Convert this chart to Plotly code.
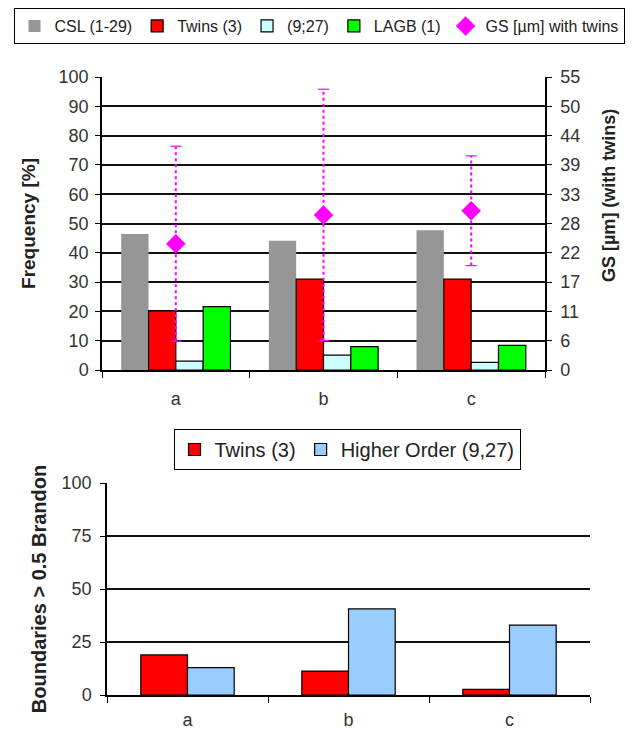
import plotly.graph_objects as go

# ---------------- data ----------------
categories = ["a", "b", "c"]
csl = [46.4, 44.1, 47.7]
twins = [20.2, 31.0, 31.0]
higher = [3.0, 5.1, 2.6]
lagb = [21.6, 8.0, 8.4]
gs = [23.7, 29.1, 29.9]
gs_err = [18.3, 23.6, 10.3]
freq_ticks = [0, 10, 20, 30, 40, 50, 60, 70, 80, 90, 100]
gs_ticks = [0, 5.5, 11, 16.5, 22, 27.5, 33, 38.5, 44, 49.5, 55]
gs_ticktext = ["0", "6", "11", "17", "22", "28", "33", "39", "44", "50", "55"]

brandon_twins = [18.9, 11.3, 2.7]
brandon_higher = [12.9, 40.6, 33.0]
brandon_ticks = [0, 25, 50, 75, 100]

FONT = "Liberation Sans, Arial, sans-serif"
OFF = 8  # page body margin
W, H = 636 - OFF, 732 - OFF

def px(x):
    return (x - OFF) / W

def py(y):
    return 1 - (y - OFF) / H

fig = go.Figure()

# top chart bars
fig.add_trace(go.Bar(x=categories, y=csl, name="CSL (1-29)",
                     marker=dict(color="#969696", line=dict(width=0)),
                     xaxis="x", yaxis="y", legend="legend"))
fig.add_trace(go.Bar(x=categories, y=twins, name="Twins (3)",
                     marker=dict(color="#FF0000", line=dict(color="black", width=1.2)),
                     xaxis="x", yaxis="y", legend="legend"))
fig.add_trace(go.Bar(x=categories, y=higher, name="(9;27)",
                     marker=dict(color="#CCFFFF", line=dict(color="black", width=1.2)),
                     xaxis="x", yaxis="y", legend="legend"))
fig.add_trace(go.Bar(x=categories, y=lagb, name="LAGB (1)",
                     marker=dict(color="#00FF00", line=dict(color="black", width=1.2)),
                     xaxis="x", yaxis="y", legend="legend"))

# dotted error lines for GS
ex, ey = [], []
for c, v, e in zip(categories, gs, gs_err):
    ex += [c, c, None]
    ey += [v - e, v + e, None]
fig.add_trace(go.Scatter(x=ex, y=ey, mode="lines",
                         line=dict(color="#FF00FF", width=2, dash="dot"),
                         showlegend=False, hoverinfo="skip",
                         xaxis="x", yaxis="y2"))
cx = categories + categories
cy = [v - e for v, e in zip(gs, gs_err)] + [v + e for v, e in zip(gs, gs_err)]
fig.add_trace(go.Scatter(x=cx, y=cy, mode="markers",
                         marker=dict(symbol="line-ew-open", size=8, color="#FF00FF",
                                     line=dict(color="#FF00FF", width=1.2)),
                         showlegend=False, hoverinfo="skip",
                         xaxis="x", yaxis="y2"))
fig.add_trace(go.Scatter(x=categories, y=gs, mode="markers", name="GS [µm] with twins",
                         marker=dict(symbol="diamond", size=15, color="#FF00FF"),
                         xaxis="x", yaxis="y2", legend="legend"))

# bottom chart bars
fig.add_trace(go.Bar(x=categories, y=brandon_twins, name="Twins (3)",
                     marker=dict(color="#FF0000", line=dict(color="black", width=1.2)),
                     offset=-0.29, width=0.29,
                     xaxis="x2", yaxis="y3", legend="legend2"))
fig.add_trace(go.Bar(x=categories, y=brandon_higher, name="Higher Order (9,27)",
                     marker=dict(color="#99CCFF", line=dict(color="black", width=1.2)),
                     offset=0, width=0.29,
                     xaxis="x2", yaxis="y3", legend="legend2"))

axis_common = dict(showline=True, linecolor="black", linewidth=1.5,
                   ticks="outside", tickcolor="black", automargin=False,
                   tickfont=dict(family=FONT, size=18, color="#333"))

fig.update_layout(
    width=W, height=H, autosize=False,
    margin=dict(l=0, r=0, t=0, b=0, autoexpand=False),
    paper_bgcolor="white", plot_bgcolor="white",
    barmode="group", bargap=0.26, bargroupgap=0,
    font=dict(family=FONT, size=16, color="#222"),
    xaxis=dict(domain=[px(102), px(545)], anchor="y", type="category",
               range=[-0.5, 2.5], tickson="boundaries", ticklen=6,
               ticklabelstandoff=12, showgrid=False, **axis_common),
    yaxis=dict(domain=[py(370), py(77)], anchor="x", range=[0, 100], ticklen=5,
               ticklabelstandoff=3,
               tickvals=freq_ticks, showgrid=True, gridcolor="#111", gridwidth=1.5,
               zeroline=False,
               title=dict(text="<b>Frequency [%]</b>", standoff=18,
                          font=dict(family=FONT, size=19, color="#222")),
               **axis_common),
    yaxis2=dict(overlaying="y", side="right", anchor="x", range=[0, 55], ticklen=5,
                ticklabelstandoff=5,
                tickvals=gs_ticks, ticktext=gs_ticktext, showgrid=False,
                zeroline=False, **axis_common),
    xaxis2=dict(domain=[px(107), px(590)], anchor="y3", type="category",
                range=[-0.5, 2.5], tickson="boundaries", ticklen=6,
                ticklabelstandoff=8, showgrid=False, **axis_common),
    yaxis3=dict(domain=[py(695), py(483)], anchor="x2", range=[0, 100], ticklen=5,
                ticklabelstandoff=5,
                tickvals=brandon_ticks, showgrid=True, gridcolor="#111", gridwidth=1.5,
                zeroline=False,
                title=dict(text="<b>Boundaries > 0.5 Brandon</b>", standoff=10,
                           font=dict(family=FONT, size=20, color="#222")),
                **axis_common),
    legend=dict(orientation="h", x=px(319), xanchor="center", y=py(8), yanchor="top",
                bordercolor="black", borderwidth=1, bgcolor="white",
                font=dict(family=FONT, size=16, color="#222"),
                traceorder="normal"),
    legend2=dict(orientation="h", x=px(347), xanchor="center", y=py(429), yanchor="top",
                 bordercolor="black", borderwidth=1, bgcolor="white",
                 font=dict(family=FONT, size=20, color="#222"),
                 traceorder="normal"),
    annotations=[
        dict(text="<b>GS [µm] (with twins)</b>", textangle=-90,
             x=px(609), y=py(196), xref="paper", yref="paper",
             xanchor="center", yanchor="middle", showarrow=False,
             font=dict(family=FONT, size=18, color="#222")),
    ],
)

fig.write_html("out.html")
